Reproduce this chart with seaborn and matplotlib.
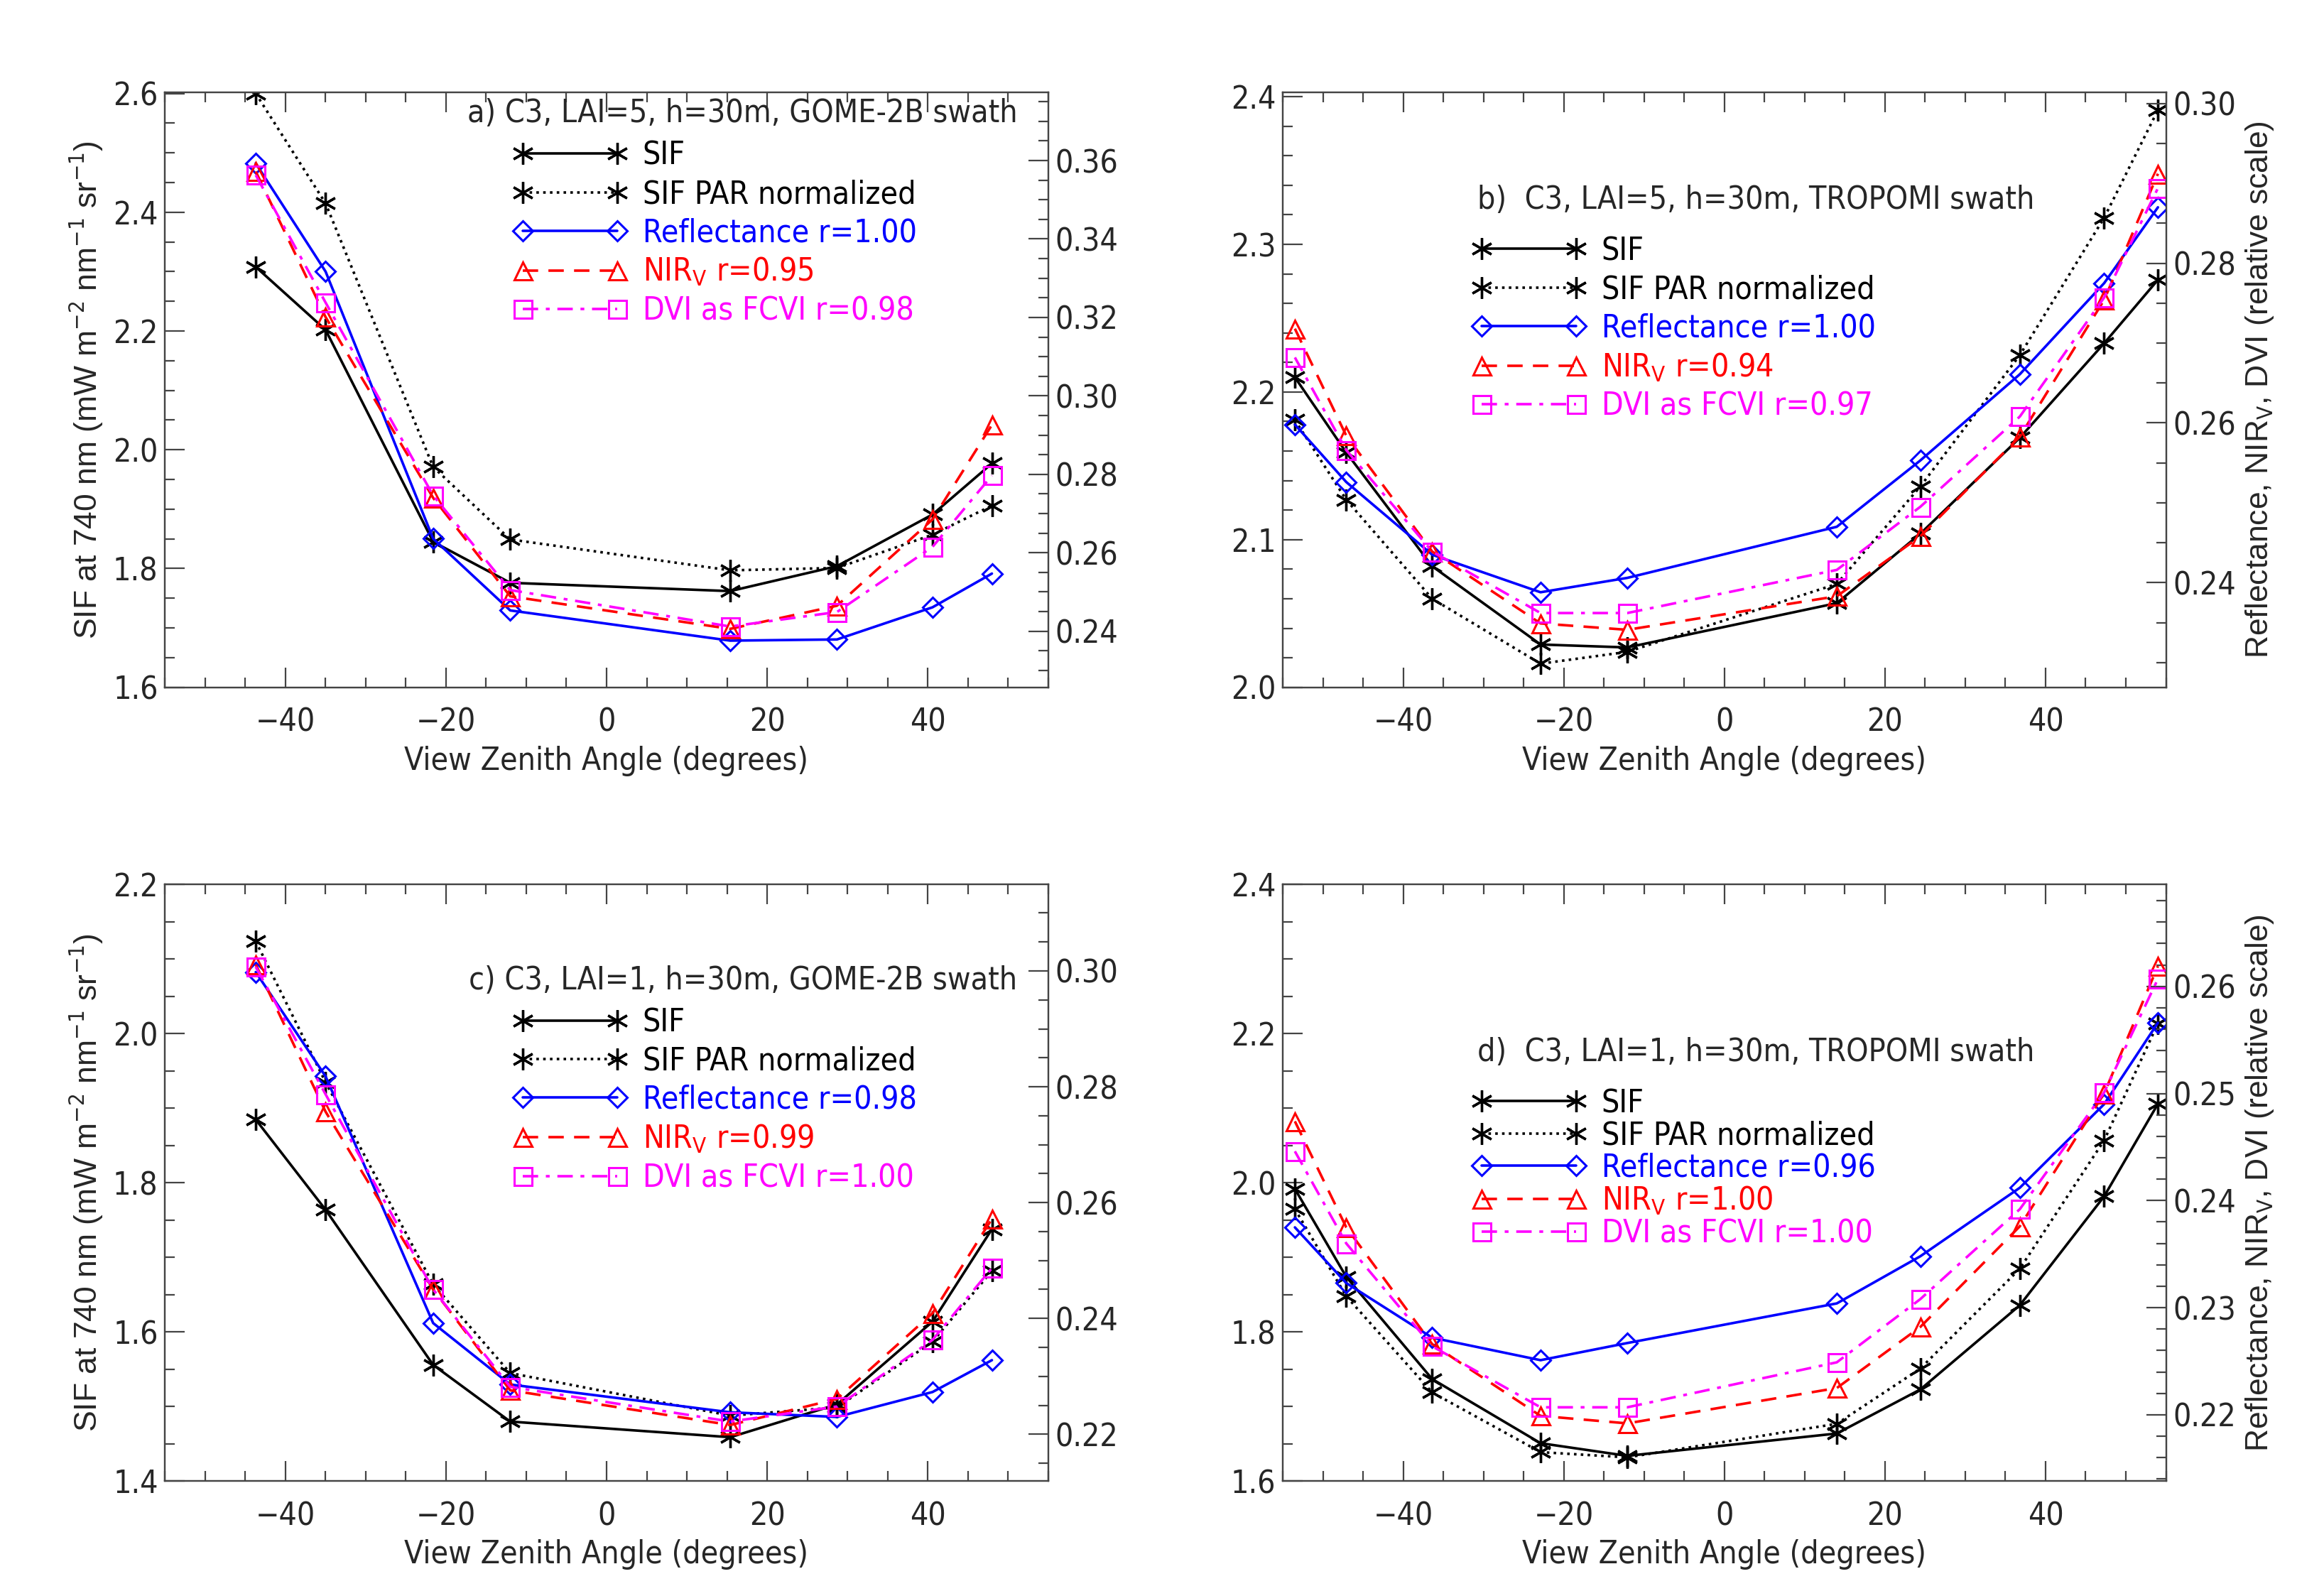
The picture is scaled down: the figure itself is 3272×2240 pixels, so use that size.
import numpy as np
import pandas as pd
import matplotlib
matplotlib.use("Agg")
import matplotlib.pyplot as plt
import seaborn as sns
from matplotlib.ticker import MultipleLocator
from matplotlib.lines import Line2D

sns.set_style("ticks")
NARROW = ['DejaVu Sans', 'Liberation Sans']
plt.rcParams['font.family'] = NARROW
plt.rcParams['font.stretch'] = 'condensed'

# ---------------- data ----------------
vza_gome = [-43.7, -35.0, -21.6, -12.0, 15.4, 28.7, 40.6, 48.0]
vza_trop = [-53.5, -47.1, -36.4, -22.9, -12.1, 14.0, 24.4, 36.8, 47.3, 54.0]

a_sif = [2.308, 2.202, 1.845, 1.776, 1.762, 1.804, 1.891, 1.977]
a_par = [2.600, 2.415, 1.971, 1.849, 1.797, 1.801, 1.857, 1.906]
a_ref = [0.3593, 0.3317, 0.2636, 0.2453, 0.2376, 0.2379, 0.2461, 0.2547]
a_nir = [0.3572, 0.3201, 0.2740, 0.2489, 0.2406, 0.2465, 0.2685, 0.2926]
a_dvi = [0.3563, 0.3238, 0.2746, 0.2505, 0.2412, 0.2449, 0.2615, 0.2797]

b_sif = [2.210, 2.159, 2.082, 2.029, 2.027, 2.057, 2.104, 2.169, 2.233, 2.276]
b_par = [2.181, 2.127, 2.060, 2.016, 2.024, 2.070, 2.136, 2.225, 2.318, 2.391]
b_ref = [0.2598, 0.2526, 0.2435, 0.2388, 0.2406, 0.2470, 0.2553, 0.2661, 0.2775, 0.2870]
b_nir = [0.2718, 0.2584, 0.2439, 0.2349, 0.2341, 0.2383, 0.2458, 0.2583, 0.2754, 0.2912]
b_dvi = [0.2682, 0.2566, 0.2439, 0.2362, 0.2362, 0.2416, 0.2495, 0.2608, 0.2757, 0.2894]

c_sif = [1.885, 1.764, 1.556, 1.480, 1.459, 1.503, 1.614, 1.738]
c_par = [2.124, 1.935, 1.664, 1.545, 1.488, 1.499, 1.587, 1.682]
c_ref = [0.2998, 0.2818, 0.2392, 0.2286, 0.2238, 0.2230, 0.2273, 0.2328]
c_nir = [0.3011, 0.2757, 0.2450, 0.2276, 0.2216, 0.2261, 0.2409, 0.2572]
c_dvi = [0.3007, 0.2787, 0.2450, 0.2282, 0.2222, 0.2248, 0.2363, 0.2487]

d_sif = [1.992, 1.874, 1.737, 1.651, 1.634, 1.664, 1.723, 1.836, 1.982, 2.106]
d_par = [1.965, 1.848, 1.719, 1.639, 1.632, 1.677, 1.751, 1.885, 2.057, 2.214]
d_ref = [0.2375, 0.2323, 0.2272, 0.2251, 0.2267, 0.2304, 0.2348, 0.2412, 0.2490, 0.2566]
d_nir = [0.2474, 0.2375, 0.2266, 0.2199, 0.2192, 0.2225, 0.2282, 0.2376, 0.2500, 0.2619]
d_dvi = [0.2446, 0.2360, 0.2264, 0.2207, 0.2207, 0.2249, 0.2308, 0.2392, 0.2501, 0.2607]

titles = ["a) C3, LAI=5, h=30m, GOME-2B swath", "b)  C3, LAI=5, h=30m, TROPOMI swath",
          "c) C3, LAI=1, h=30m, GOME-2B swath", "d)  C3, LAI=1, h=30m, TROPOMI swath"]
r_ref = ["1.00", "1.00", "0.98", "0.96"]
r_nir = ["0.95", "0.94", "0.99", "1.00"]
r_dvi = ["0.98", "0.97", "1.00", "1.00"]

# ---------------- layout ----------------
fig = plt.figure(figsize=(16.36, 11.2), dpi=200)
pos = {0: [0.071, 0.568, 0.380, 0.374], 1: [0.552, 0.568, 0.380, 0.374],
       2: [0.071, 0.069, 0.380, 0.375], 3: [0.552, 0.069, 0.380, 0.375]}
left_lim = [(1.6, 2.602), (2.0, 2.403), (1.4, 2.2), (1.6, 2.4)]
left_step = [0.2, 0.1, 0.2, 0.2]
left_minor = [0.05, 0.02, 0.05, 0.05]
right_lim = [(0.2257, 0.3774), (0.2269, 0.3014), (0.2119, 0.3149), (0.2138, 0.2695)]
right_step = [0.02, 0.02, 0.02, 0.01]
right_minor = [0.005, 0.005, 0.005, 0.002]

panels = [
    (vza_gome, a_sif, a_par, a_ref, a_nir, a_dvi),
    (vza_trop, b_sif, b_par, b_ref, b_nir, b_dvi),
    (vza_gome, c_sif, c_par, c_ref, c_nir, c_dvi),
    (vza_trop, d_sif, d_par, d_ref, d_nir, d_dvi),
]
AST = (6, 2, 0)
FS = 15
YL = dict(fontsize=16, family=['Liberation Sans', 'DejaVu Sans'], fontstretch='normal')

for i, (x, sif, par, ref, nir, dvi) in enumerate(panels):
    ax = fig.add_axes(pos[i])
    ax2 = ax.twinx()
    ax.patch.set_visible(False)

    sns.lineplot(x=x, y=sif, ax=ax, color='black', lw=1.3, marker=AST, ms=11, mew=1.2,
                 mec='black', linestyle='-', sort=False)
    sns.lineplot(x=x, y=par, ax=ax, color='black', lw=1.3, marker=AST, ms=11, mew=1.2,
                 mec='black', linestyle=':', sort=False)
    sns.lineplot(x=x, y=ref, ax=ax2, color='blue', lw=1.3, marker='D', ms=7, mfc='none',
                 mec='blue', mew=1.1, linestyle='-', sort=False)
    sns.lineplot(x=x, y=nir, ax=ax2, color='red', lw=1.3, marker='^', ms=9, mfc='none',
                 mec='red', mew=1.1, linestyle=(0, (6, 4)), sort=False)
    sns.lineplot(x=x, y=dvi, ax=ax2, color='magenta', lw=1.3, marker='s', ms=9, mfc='none',
                 mec='magenta', mew=1.1, linestyle=(0, (6, 3, 1.5, 3)), sort=False)

    ax.set_xlim(-55, 55)
    ax.set_ylim(*left_lim[i])
    ax2.set_ylim(*right_lim[i])
    ax.xaxis.set_major_locator(MultipleLocator(20))
    ax.xaxis.set_minor_locator(MultipleLocator(5))
    ax.yaxis.set_major_locator(MultipleLocator(left_step[i]))
    ax.yaxis.set_minor_locator(MultipleLocator(left_minor[i]))
    ax2.yaxis.set_major_locator(MultipleLocator(right_step[i]))
    ax2.yaxis.set_minor_locator(MultipleLocator(right_minor[i]))
    ax.yaxis.set_major_formatter(matplotlib.ticker.FormatStrFormatter("%.1f"))
    ax2.yaxis.set_major_formatter(matplotlib.ticker.FormatStrFormatter("%.2f"))
    ax.tick_params(axis='both', which='both', direction='in', top=True, right=False,
                   labelsize=FS + 1, width=0.8, color='#444444')
    ax.tick_params(which='major', length=10)
    ax.tick_params(which='minor', length=5)
    ax.tick_params(axis='x', pad=10)
    ax2.tick_params(axis='y', which='both', direction='in', labelsize=FS + 1, width=0.8, color='#444444')
    ax2.tick_params(which='major', length=10)
    ax2.tick_params(which='minor', length=5)
    for sp in list(ax.spines.values()) + list(ax2.spines.values()):
        sp.set_linewidth(0.8)
        sp.set_color('#444444')
    ax.set_xlabel("View Zenith Angle (degrees)", fontsize=FS + 1)
    if i in (0, 2):
        ax.set_ylabel(r"SIF at 740 nm (mW m$^{-2}$ nm$^{-1}$ sr$^{-1}$)", **YL)
    else:
        ax2.set_ylabel(r"Reflectance, NIR$_{\rm V}$, DVI (relative scale)", **YL)

    handles = [
        Line2D([], [], color='black', lw=1.3, ls='-', marker=AST, ms=11, mew=1.2),
        Line2D([], [], color='black', lw=1.3, ls=':', marker=AST, ms=11, mew=1.2),
        Line2D([], [], color='blue', lw=1.3, ls='-', marker='D', ms=7, mfc='none', mew=1.1),
        Line2D([], [], color='red', lw=1.3, ls=(0, (6, 4)), marker='^', ms=9, mfc='none', mew=1.1),
        Line2D([], [], color='magenta', lw=1.3, ls=(0, (6, 3, 1.5, 3)), marker='s', ms=9, mfc='none', mew=1.1),
    ]
    labels = ["SIF", "SIF PAR normalized", "Reflectance r=" + r_ref[i],
              r"NIR$_{\rm V}$ r=" + r_nir[i], "DVI as FCVI r=" + r_dvi[i]]
    if i in (0, 2):
        tx, ty = 0.965, (0.99 if i == 0 else 0.865)
        lx = 0.38
        ax.text(tx, ty, titles[i], transform=ax.transAxes, ha='right', va='top', fontsize=FS + 1)
        leg_y = ty - 0.05
    else:
        tx, ty = 0.22, (0.845 if i == 1 else 0.745)
        lx = 0.2
        ax.text(tx, ty, titles[i], transform=ax.transAxes, ha='left', va='top', fontsize=FS + 1)
        leg_y = ty - 0.065
    leg = ax.legend(handles, labels, loc='upper left', bbox_to_anchor=(lx, leg_y),
                    frameon=False, numpoints=2, handlelength=3.6, fontsize=FS + 1,
                    labelcolor=['black', 'black', 'blue', 'red', 'magenta'],
                    labelspacing=0.05 if i == 3 else 0.25, borderaxespad=0, handletextpad=0.5)
    leg.set_zorder(5)

fig.savefig("out.png", dpi=200)
